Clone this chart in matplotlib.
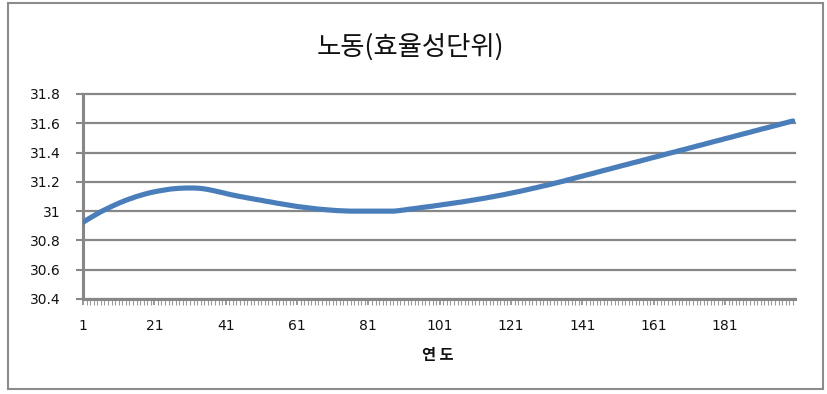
import matplotlib
matplotlib.use("Agg")
import matplotlib.pyplot as plt
from matplotlib.patches import Rectangle
from matplotlib.ticker import FixedLocator

# 노동(효율성단위) by year index 1..200
years = list(range(1, 201))
labor = [
    30.924, 30.939, 30.954, 30.968, 30.982, 30.996, 31.008, 31.020, 31.032, 31.043,
    31.054, 31.064, 31.074, 31.083, 31.091, 31.100, 31.107, 31.114, 31.121, 31.127,
    31.132, 31.137, 31.141, 31.145, 31.149, 31.152, 31.154, 31.156, 31.157, 31.158,
    31.158, 31.158, 31.157, 31.155, 31.152, 31.148, 31.143, 31.138, 31.132, 31.127,
    31.121, 31.115, 31.110, 31.105, 31.100, 31.096, 31.091, 31.087, 31.082, 31.078,
    31.074, 31.069, 31.065, 31.061, 31.056, 31.052, 31.048, 31.044, 31.040, 31.036,
    31.032, 31.029, 31.026, 31.023, 31.020, 31.017, 31.014, 31.012, 31.010, 31.008,
    31.006, 31.004, 31.003, 31.002, 31.001, 31.000, 31.000, 31.000, 31.000, 31.000,
    31.000, 31.000, 31.000, 31.000, 31.000, 31.000, 31.000, 31.000, 31.002, 31.005,
    31.008, 31.012, 31.015, 31.018, 31.021, 31.025, 31.028, 31.031, 31.034, 31.038,
    31.041, 31.045, 31.048, 31.052, 31.055, 31.059, 31.062, 31.066, 31.070, 31.074,
    31.078, 31.082, 31.086, 31.090, 31.095, 31.099, 31.104, 31.108, 31.113, 31.118,
    31.123, 31.128, 31.133, 31.138, 31.144, 31.149, 31.155, 31.160, 31.166, 31.172,
    31.177, 31.183, 31.189, 31.195, 31.201, 31.207, 31.214, 31.220, 31.227, 31.233,
    31.239, 31.246, 31.252, 31.258, 31.265, 31.271, 31.278, 31.284, 31.290, 31.297,
    31.303, 31.310, 31.316, 31.322, 31.329, 31.335, 31.341, 31.348, 31.354, 31.361,
    31.367, 31.373, 31.380, 31.386, 31.393, 31.399, 31.405, 31.412, 31.418, 31.424,
    31.431, 31.437, 31.444, 31.450, 31.456, 31.463, 31.469, 31.476, 31.482, 31.488,
    31.495, 31.501, 31.507, 31.514, 31.520, 31.527, 31.533, 31.539, 31.546, 31.552,
    31.559, 31.565, 31.571, 31.578, 31.584, 31.590, 31.597, 31.603, 31.610, 31.616,
]

x_tick_values = [1, 21, 41, 61, 81, 101, 121, 141, 161, 181]
x_tick_labels = ["1", "21", "41", "61", "81", "101", "121", "141", "161", "181"]
y_tick_values = [30.4, 30.6, 30.8, 31.0, 31.2, 31.4, 31.6, 31.8]
y_tick_labels = ["30.4", "30.6", "30.8", "31", "31.2", "31.4", "31.6", "31.8"]

title_text = "노동(효율성단위)"
xlabel_text = "연 도"

W, H = 827, 394
grey = "#878787"
blue = "#4A7EBB"
kr_font = ["Noto Sans CJK KR", "DejaVu Sans"]

fig = plt.figure(figsize=(W / 100, H / 100), dpi=100)
fig.patch.set_facecolor("white")

# chart frame
fig.patches.append(Rectangle((8 / W, 1 - 389 / H), 815 / W, 386 / H,
                             transform=fig.transFigure, fill=False,
                             edgecolor="#8c8c8c", linewidth=1.5))

left, right, top, bottom = 83, 795, 94, 299
ax = fig.add_axes([left / W, 1 - bottom / H, (right - left) / W, (bottom - top) / H])

ax.plot(years, labor, color=blue, linewidth=3.7, solid_capstyle="round",
        solid_joinstyle="round", zorder=3)

ax.set_xlim(1, 200.6)
ax.set_ylim(30.4, 31.8)

ax.set_yticks(y_tick_values)
ax.set_yticklabels(y_tick_labels)
ax.set_xticks(x_tick_values)
ax.set_xticklabels(x_tick_labels)
ax.xaxis.set_minor_locator(FixedLocator(years))

ax.yaxis.grid(True, color=grey, linewidth=1.6)
ax.set_axisbelow(True)
for gl in ax.get_ygridlines():
    gl.set_clip_on(False)

for s in ("top", "right"):
    ax.spines[s].set_visible(False)
ax.spines["left"].set_color(grey)
ax.spines["left"].set_linewidth(2.2)
ax.spines["bottom"].set_color(grey)
ax.spines["bottom"].set_linewidth(2.2)

ax.tick_params(axis="y", which="major", direction="out", length=5, width=1.5,
               color=grey, pad=11, labelsize=10, labelcolor="#111111")
ax.tick_params(axis="x", which="major", direction="out", length=4.5, width=1.2,
               color=grey, pad=10, labelsize=10, labelcolor="#111111")
ax.tick_params(axis="x", which="minor", direction="out", length=4, width=0.8,
               color="#9a9a9a")

fig.text(410 / W, 1 - 47 / H, title_text, ha="center", va="center",
         fontsize=19, family=kr_font, color="#111111")
fig.text(438 / W, 1 - 355 / H, xlabel_text, ha="center", va="center",
         fontsize=11, fontweight="bold", family=kr_font, color="#111111")

fig.savefig("out.png", dpi=100, facecolor="white")
